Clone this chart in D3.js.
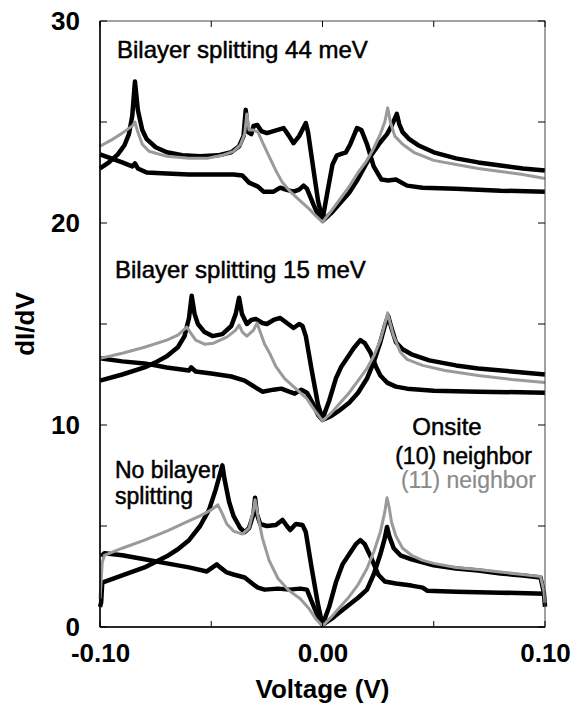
<!DOCTYPE html>
<html>
<head>
<meta charset="utf-8">
<script src="https://cdn.jsdelivr.net/npm/d3@7"></script>
<style>
  body { margin: 0; background: #fff; }
  svg text { font-family: "Liberation Sans", Arial, Helvetica, sans-serif; }
</style>
</head>
<body>
<div id="chart"></div>
<script>
// x ticks / y ticks
const xTicks = [-0.10, 0.00, 0.10];
const xMinor = [-0.05, 0.05];
const yTicks = [0, 10, 20, 30];
const yMinor = [5, 15, 25];

// top group: bilayer splitting 44 meV
const top10 = [[-0.1,22.7],[-0.096,23.0],[-0.092,23.4],[-0.089,23.85],[-0.087,24.4],[-0.0855,25.3],[-0.0843,27.0],[-0.083,25.6],[-0.081,24.6],[-0.079,24.15],[-0.075,23.75],[-0.07,23.5],[-0.063,23.35],[-0.055,23.3],[-0.047,23.35],[-0.041,23.5],[-0.0375,23.8],[-0.0355,24.3],[-0.0345,25.6],[-0.0335,24.5],[-0.032,24.4],[-0.031,24.8],[-0.0293,24.85],[-0.0275,24.55],[-0.025,24.45],[-0.0205,24.6],[-0.0175,24.7],[-0.015,24.3],[-0.013,23.95],[-0.0105,24.3],[-0.0075,24.95],[-0.0065,24.5],[-0.004,22.6],[-0.002,21.1],[0,20.15],[0.002,21.4],[0.0045,22.9],[0.0065,23.35],[0.0105,23.5],[0.0125,23.9],[0.0155,24.7],[0.0175,24.6],[0.02,23.9],[0.023,22.8],[0.0265,22.15],[0.0295,22.1],[0.033,22.15],[0.038,21.85],[0.045,21.75],[0.06,21.7],[0.08,21.6],[0.1,21.55]];
const topOnsite = [[-0.1,23.4],[-0.095,23.2],[-0.09,23.0],[-0.0855,22.8],[-0.0843,22.95],[-0.083,22.7],[-0.079,22.5],[-0.07,22.45],[-0.06,22.4],[-0.05,22.4],[-0.04,22.4],[-0.036,22.35],[-0.033,22.0],[-0.029,21.8],[-0.0265,21.55],[-0.022,21.55],[-0.019,21.75],[-0.0165,21.65],[-0.013,21.55],[-0.0105,21.65],[-0.0085,21.85],[-0.007,21.7],[-0.004,20.9],[-0.002,20.4],[0,20.1],[0.004,20.5],[0.008,21.0],[0.012,21.5],[0.0155,22.1],[0.019,22.8],[0.0215,23.3],[0.026,24.0],[0.029,24.4],[0.031,24.8],[0.0334,25.4],[0.0345,24.9],[0.036,24.5],[0.039,24.15],[0.043,23.85],[0.05,23.5],[0.06,23.2],[0.07,23.0],[0.08,22.85],[0.09,22.7],[0.1,22.6]];
const top11 = [[-0.1,23.8],[-0.095,24.1],[-0.09,24.45],[-0.0855,24.8],[-0.0843,25.0],[-0.083,24.5],[-0.081,23.9],[-0.078,23.55],[-0.07,23.3],[-0.06,23.2],[-0.052,23.2],[-0.045,23.35],[-0.04,23.55],[-0.037,23.85],[-0.035,24.4],[-0.034,25.4],[-0.033,24.6],[-0.031,24.6],[-0.029,24.5],[-0.027,24.0],[-0.024,23.3],[-0.021,22.6],[-0.018,22.0],[-0.014,21.5],[-0.01,21.1],[-0.006,20.7],[-0.003,20.35],[0,20.05],[0.004,20.6],[0.008,21.2],[0.012,21.8],[0.016,22.5],[0.02,23.1],[0.023,23.7],[0.026,24.4],[0.028,25.0],[0.0293,25.7],[0.0305,25.0],[0.0325,24.3],[0.036,23.9],[0.041,23.5],[0.05,23.1],[0.06,22.9],[0.07,22.7],[0.08,22.55],[0.09,22.4],[0.1,22.2]];

// middle group: bilayer splitting 15 meV
const mid10 = [[-0.1,12.2],[-0.09,12.5],[-0.08,12.85],[-0.075,13.1],[-0.07,13.4],[-0.065,13.85],[-0.062,14.4],[-0.06,15.3],[-0.0588,16.4],[-0.0575,15.5],[-0.056,15.0],[-0.053,14.6],[-0.0495,14.4],[-0.045,14.5],[-0.041,14.9],[-0.039,15.5],[-0.0375,16.3],[-0.0362,15.5],[-0.034,15.0],[-0.032,15.2],[-0.03,15.25],[-0.027,15.05],[-0.025,15.0],[-0.022,15.2],[-0.019,15.3],[-0.016,15.05],[-0.013,14.8],[-0.0105,15.0],[-0.009,14.9],[-0.0075,14.4],[-0.005,12.8],[-0.002,11.0],[0,10.3],[0.003,11.2],[0.006,12.3],[0.0085,12.9],[0.011,13.3],[0.014,13.8],[0.017,14.2],[0.019,14.05],[0.0215,13.6],[0.024,12.9],[0.026,12.45],[0.029,12.1],[0.033,11.9],[0.038,11.8],[0.05,11.7],[0.07,11.65],[0.1,11.6]];
const midOnsite = [[-0.1,13.3],[-0.09,13.15],[-0.08,13.05],[-0.07,12.85],[-0.06,12.7],[-0.059,12.85],[-0.057,12.65],[-0.05,12.55],[-0.041,12.4],[-0.035,12.2],[-0.03,11.85],[-0.027,11.65],[-0.022,11.75],[-0.0185,11.8],[-0.015,11.65],[-0.0125,11.55],[-0.0095,11.75],[-0.007,11.6],[-0.004,11.0],[-0.002,10.5],[0,10.25],[0.004,10.45],[0.008,10.75],[0.012,11.1],[0.016,11.6],[0.02,12.3],[0.023,13.1],[0.026,14.1],[0.028,14.9],[0.0295,15.4],[0.031,14.8],[0.033,14.1],[0.036,13.75],[0.04,13.5],[0.048,13.2],[0.06,12.95],[0.07,12.8],[0.085,12.65],[0.1,12.5]];
const mid11 = [[-0.1,13.3],[-0.09,13.55],[-0.08,13.85],[-0.07,14.2],[-0.065,14.45],[-0.061,14.85],[-0.0595,14.6],[-0.057,14.2],[-0.053,14.0],[-0.049,14.05],[-0.043,14.35],[-0.039,14.7],[-0.0375,14.95],[-0.036,14.6],[-0.034,14.4],[-0.031,14.7],[-0.0294,15.05],[-0.028,14.6],[-0.026,14.0],[-0.0235,13.5],[-0.021,12.9],[-0.017,12.3],[-0.013,11.9],[-0.0095,11.55],[-0.007,11.3],[-0.004,10.8],[0,10.2],[0.004,10.6],[0.008,11.1],[0.012,11.6],[0.016,12.2],[0.02,12.8],[0.023,13.4],[0.026,14.2],[0.028,15.0],[0.0293,15.55],[0.0305,15.0],[0.032,14.4],[0.035,13.6],[0.038,13.25],[0.045,12.95],[0.055,12.7],[0.07,12.45],[0.085,12.25],[0.1,12.1]];

// bottom group: no bilayer splitting
const bot10 = [[-0.1,1.0],[-0.0995,1.2],[-0.099,2.2],[-0.09,2.55],[-0.08,2.95],[-0.07,3.5],[-0.065,3.85],[-0.06,4.3],[-0.055,5.0],[-0.051,5.8],[-0.048,6.8],[-0.046,7.6],[-0.045,8.0],[-0.044,7.3],[-0.042,6.2],[-0.04,5.5],[-0.037,4.9],[-0.035,4.7],[-0.033,4.9],[-0.031,5.6],[-0.0303,6.4],[-0.0295,5.6],[-0.028,5.1],[-0.025,5.0],[-0.021,5.05],[-0.018,5.3],[-0.016,5.0],[-0.0145,4.8],[-0.012,5.1],[-0.009,5.05],[-0.0075,4.7],[-0.005,3.0],[-0.002,1.1],[0,0.1],[0.003,1.0],[0.006,2.2],[0.009,3.1],[0.012,3.6],[0.015,4.1],[0.017,4.3],[0.019,4.1],[0.022,3.4],[0.025,2.6],[0.028,2.25],[0.033,2.15],[0.04,2.05],[0.045,1.95],[0.047,1.8],[0.06,1.75],[0.08,1.7],[0.1,1.65]];
const botOnsite = [[-0.0995,3.5],[-0.098,3.65],[-0.09,3.55],[-0.08,3.35],[-0.07,3.15],[-0.06,2.95],[-0.052,2.75],[-0.0475,3.1],[-0.046,2.95],[-0.043,2.7],[-0.04,2.6],[-0.035,2.45],[-0.031,2.1],[-0.029,1.95],[-0.026,1.85],[-0.02,1.9],[-0.015,1.85],[-0.01,1.9],[-0.007,1.85],[-0.005,1.3],[-0.002,0.5],[0,0.1],[0.004,0.4],[0.008,0.75],[0.012,1.1],[0.016,1.45],[0.02,1.85],[0.023,2.6],[0.026,3.6],[0.028,4.4],[0.029,4.95],[0.030,4.5],[0.032,3.9],[0.035,3.55],[0.04,3.35],[0.045,3.2],[0.05,3.05],[0.06,2.9],[0.07,2.8],[0.08,2.65],[0.09,2.55],[0.098,2.45],[0.0995,1.7],[0.1,1.0]];
const bot11 = [[-0.1,1.4],[-0.099,3.2],[-0.098,3.55],[-0.09,3.9],[-0.08,4.3],[-0.07,4.75],[-0.06,5.25],[-0.055,5.5],[-0.05,5.8],[-0.047,6.05],[-0.045,5.6],[-0.043,5.1],[-0.04,4.75],[-0.036,4.6],[-0.033,4.9],[-0.031,5.8],[-0.0303,6.3],[-0.029,5.5],[-0.027,4.4],[-0.024,3.3],[-0.02,2.4],[-0.015,1.8],[-0.01,1.4],[-0.006,0.9],[-0.003,0.4],[0,0.05],[0.004,0.5],[0.008,1.0],[0.012,1.5],[0.016,2.1],[0.02,2.9],[0.023,3.7],[0.026,4.7],[0.028,5.7],[0.029,6.4],[0.030,5.9],[0.031,5.2],[0.033,4.5],[0.036,3.9],[0.04,3.55],[0.045,3.3],[0.05,3.15],[0.06,2.95],[0.07,2.85],[0.08,2.72],[0.09,2.6],[0.098,2.5],[0.0995,1.8],[0.1,1.2]];

const W = 574, H = 704;
const margin = { top: 21, right: 29, bottom: 77, left: 100 };
const width = W - margin.left - margin.right;
const height = H - margin.top - margin.bottom;

const svg = d3.select("#chart").append("svg")
  .attr("width", W).attr("height", H);
const g = svg.append("g")
  .attr("transform", `translate(${margin.left},${margin.top})`);

const x = d3.scaleLinear().domain([-0.1, 0.1]).range([0, width]);
const y = d3.scaleLinear().domain([0, 30]).range([height, 0]);

const line = d3.line().x(d => x(d[0])).y(d => y(d[1]));

// black curves first, gray on top
[top10, topOnsite, mid10, midOnsite, bot10, botOnsite].forEach(c => {
  g.append("path").datum(c)
    .attr("d", line)
    .attr("fill", "none")
    .attr("stroke", "#000")
    .attr("stroke-width", 4.5)
    .attr("stroke-linejoin", "round");
});
[top11, mid11, bot11].forEach(c => {
  g.append("path").datum(c)
    .attr("d", line)
    .attr("fill", "none")
    .attr("stroke", "#9a9a9a")
    .attr("stroke-width", 3)
    .attr("stroke-linejoin", "round");
});

// frame
g.append("rect")
  .attr("width", width).attr("height", height)
  .attr("fill", "none").attr("stroke", "#444").attr("stroke-width", 1);
g.append("line").attr("x1", 0).attr("x2", 0).attr("y1", 0).attr("y2", height)
  .attr("stroke", "#000").attr("stroke-width", 1.5);
g.append("line").attr("x1", 0).attr("x2", width).attr("y1", height).attr("y2", height)
  .attr("stroke", "#000").attr("stroke-width", 1.5);

// axes (plain hyphen for the minus sign, as in the original)
const fmtX = d => d3.format(".2f")(d).replace("\u2212", "-");
const xAxis = g.append("g").attr("transform", `translate(0,${height})`)
  .call(d3.axisBottom(x).tickValues(xTicks).tickSize(0).tickPadding(17).tickFormat(fmtX));
xAxis.select(".domain").remove();
xAxis.selectAll("text").attr("font-size", 26).attr("font-weight", "bold").attr("fill", "#000")
  .attr("font-family", "Liberation Sans, Arial, sans-serif");

const yAxis = g.append("g")
  .call(d3.axisLeft(y).tickValues(yTicks).tickSize(0).tickPadding(20).tickFormat(d3.format("d")));
yAxis.select(".domain").remove();
yAxis.selectAll("text").attr("font-size", 26).attr("font-weight", "bold").attr("fill", "#000")
  .attr("font-family", "Liberation Sans, Arial, sans-serif");

// inward ticks on all four sides
const tk = g.append("g").attr("stroke", "#000").attr("stroke-width", 1);
yTicks.concat(yMinor).forEach(v => {
  const len = 7;
  tk.append("line").attr("x1", 0).attr("x2", len).attr("y1", y(v)).attr("y2", y(v));
  tk.append("line").attr("x1", width).attr("x2", width - len).attr("y1", y(v)).attr("y2", y(v));
});
xTicks.concat(xMinor).forEach(v => {
  const len = 6;
  tk.append("line").attr("x1", x(v)).attr("x2", x(v)).attr("y1", height).attr("y2", height - len);
  tk.append("line").attr("x1", x(v)).attr("x2", x(v)).attr("y1", 0).attr("y2", len);
});

// axis titles
svg.append("text")
  .attr("x", margin.left + width / 2).attr("y", 698)
  .attr("text-anchor", "middle").attr("font-size", 26).attr("font-weight", "bold")
  .text("Voltage (V)");
svg.append("text")
  .attr("transform", `translate(34,${margin.top + height / 2})rotate(-90)`)
  .attr("text-anchor", "middle").attr("font-size", 26).attr("font-weight", "bold")
  .text("dI/dV");

// annotations
const ann = svg.append("g").attr("font-size", 24).attr("fill", "#000")
  .attr("stroke", "#000").attr("stroke-width", 0.5);
ann.append("text").attr("x", 117).attr("y", 58).text("Bilayer splitting 44 meV");
ann.append("text").attr("x", 115).attr("y", 278).text("Bilayer splitting 15 meV");
ann.append("text").attr("x", 115).attr("y", 478).attr("font-size", 23).text("No bilayer");
ann.append("text").attr("x", 115).attr("y", 504).attr("font-size", 23).text("splitting");
ann.append("text").attr("x", 447).attr("y", 435).attr("text-anchor", "middle").text("Onsite");
ann.append("text").attr("x", 532).attr("y", 464).attr("text-anchor", "end")
  .attr("font-size", 23).text("(10) neighbor");
ann.append("text").attr("x", 536).attr("y", 488).attr("text-anchor", "end")
  .attr("font-size", 23).attr("fill", "#8a8a8a").attr("stroke", "#8a8a8a").attr("stroke-width", 0.2)
  .text("(11) neighbor");
</script>
</body>
</html>
